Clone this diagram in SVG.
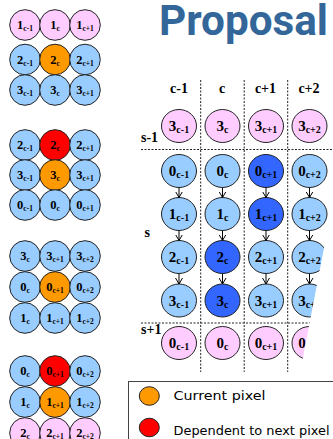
<svg xmlns="http://www.w3.org/2000/svg" width="333" height="439" viewBox="0 0 333 439">
<defs>
<style>
.pk{fill:#FFCCFF;stroke:#222;stroke-width:1}
.lb{fill:#99CCFF;stroke:#222;stroke-width:1}
.or{fill:#FF9900;stroke:#222;stroke-width:1}
.rd{fill:#FF0000;stroke:#222;stroke-width:1}
.db{fill:#3366FF;stroke:#222;stroke-width:1}
.sl{font-family:"Liberation Serif","Times New Roman",serif;font-weight:bold;font-size:12.5px;fill:#000;text-anchor:middle}
.sl tspan.s{font-size:7.5px}
.gl{font-family:"Liberation Serif","Times New Roman",serif;font-weight:bold;font-size:15px;fill:#000;text-anchor:middle}
.gl tspan.s{font-size:10px}
.hd{font-family:"Liberation Serif","Times New Roman",serif;font-weight:bold;font-size:14px;fill:#000}
.dash{stroke:#222;stroke-width:1;stroke-dasharray:2 1.5;fill:none}
.arr{stroke:#000;stroke-width:1;fill:none;marker-end:url(#ah)}
.lg{font-family:"DejaVu Sans",Verdana,sans-serif;font-size:13px;fill:#000}
</style>
<marker id="ah" viewBox="0 0 6 8" refX="6" refY="4" markerWidth="6" markerHeight="8" markerUnits="userSpaceOnUse" orient="auto">
<path d="M0,0.5 L6,4 L0,7.5" fill="none" stroke="#000" stroke-width="1"/>
</marker>
</defs>
<rect width="333" height="439" fill="#fff"/>
<text x="159" y="35" font-family="Roboto,'Liberation Sans',sans-serif" font-weight="bold" font-size="42" fill="#336699" textLength="169" lengthAdjust="spacingAndGlyphs">Proposal</text>

<!-- left column groups -->
<g id="g1">
<g id="g1-1c-1"><circle class="pk" cx="25" cy="25" r="15.3"/><text class="sl" x="25" y="29">1<tspan class="s" dy="2">c-1</tspan></text></g>
<g id="g1-1c"><circle class="pk" cx="55" cy="25" r="15.3"/><text class="sl" x="55" y="29">1<tspan class="s" dy="2">c</tspan></text></g>
<g id="g1-1c+1"><circle class="pk" cx="85" cy="25" r="15.3"/><text class="sl" x="85" y="29">1<tspan class="s" dy="2">c+1</tspan></text></g>
<g id="g1-2c-1"><circle class="lb" cx="25" cy="59.5" r="15.3"/><text class="sl" x="25" y="63.5">2<tspan class="s" dy="2">c-1</tspan></text></g>
<g id="g1-2c"><circle class="or" cx="55" cy="59.5" r="15.3"/><text class="sl" x="55" y="63.5">2<tspan class="s" dy="2">c</tspan></text></g>
<g id="g1-2c+1"><circle class="lb" cx="85" cy="59.5" r="15.3"/><text class="sl" x="85" y="63.5">2<tspan class="s" dy="2">c+1</tspan></text></g>
<g id="g1-3c-1"><circle class="lb" cx="25" cy="90" r="15.3"/><text class="sl" x="25" y="94">3<tspan class="s" dy="2">c-1</tspan></text></g>
<g id="g1-3c"><circle class="lb" cx="55" cy="90" r="15.3"/><text class="sl" x="55" y="94">3<tspan class="s" dy="2">c</tspan></text></g>
<g id="g1-3c+1"><circle class="lb" cx="85" cy="90" r="15.3"/><text class="sl" x="85" y="94">3<tspan class="s" dy="2">c+1</tspan></text></g>
</g>
<g id="g2">
<g id="g2-2c-1"><circle class="lb" cx="25" cy="145" r="15.3"/><text class="sl" x="25" y="149">2<tspan class="s" dy="2">c-1</tspan></text></g>
<g id="g2-2c"><circle class="rd" cx="55" cy="145" r="15.3"/><text class="sl" x="55" y="149">2<tspan class="s" dy="2">c</tspan></text></g>
<g id="g2-2c+1"><circle class="lb" cx="85" cy="145" r="15.3"/><text class="sl" x="85" y="149">2<tspan class="s" dy="2">c+1</tspan></text></g>
<g id="g2-3c-1"><circle class="lb" cx="25" cy="175" r="15.3"/><text class="sl" x="25" y="179">3<tspan class="s" dy="2">c-1</tspan></text></g>
<g id="g2-3c"><circle class="or" cx="55" cy="175" r="15.3"/><text class="sl" x="55" y="179">3<tspan class="s" dy="2">c</tspan></text></g>
<g id="g2-3c+1"><circle class="lb" cx="85" cy="175" r="15.3"/><text class="sl" x="85" y="179">3<tspan class="s" dy="2">c+1</tspan></text></g>
<g id="g2-0c-1"><circle class="lb" cx="25" cy="205" r="15.3"/><text class="sl" x="25" y="209">0<tspan class="s" dy="2">c-1</tspan></text></g>
<g id="g2-0c"><circle class="lb" cx="55" cy="205" r="15.3"/><text class="sl" x="55" y="209">0<tspan class="s" dy="2">c</tspan></text></g>
<g id="g2-0c+1"><circle class="lb" cx="85" cy="205" r="15.3"/><text class="sl" x="85" y="209">0<tspan class="s" dy="2">c+1</tspan></text></g>
</g>
<g id="g3">
<g id="g3-3c"><circle class="lb" cx="25" cy="256" r="15.3"/><text class="sl" x="25" y="260">3<tspan class="s" dy="2">c</tspan></text></g>
<g id="g3-3c+1"><circle class="lb" cx="55" cy="256" r="15.3"/><text class="sl" x="55" y="260">3<tspan class="s" dy="2">c+1</tspan></text></g>
<g id="g3-3c+2"><circle class="lb" cx="85" cy="256" r="15.3"/><text class="sl" x="85" y="260">3<tspan class="s" dy="2">c+2</tspan></text></g>
<g id="g3-0c"><circle class="lb" cx="25" cy="287" r="15.3"/><text class="sl" x="25" y="291">0<tspan class="s" dy="2">c</tspan></text></g>
<g id="g3-0c+1"><circle class="or" cx="55" cy="287" r="15.3"/><text class="sl" x="55" y="291">0<tspan class="s" dy="2">c+1</tspan></text></g>
<g id="g3-0c+2"><circle class="lb" cx="85" cy="287" r="15.3"/><text class="sl" x="85" y="291">0<tspan class="s" dy="2">c+2</tspan></text></g>
<g id="g3-1c"><circle class="lb" cx="25" cy="318" r="15.3"/><text class="sl" x="25" y="322">1<tspan class="s" dy="2">c</tspan></text></g>
<g id="g3-1c+1"><circle class="lb" cx="55" cy="318" r="15.3"/><text class="sl" x="55" y="322">1<tspan class="s" dy="2">c+1</tspan></text></g>
<g id="g3-1c+2"><circle class="lb" cx="85" cy="318" r="15.3"/><text class="sl" x="85" y="322">1<tspan class="s" dy="2">c+2</tspan></text></g>
</g>
<g id="g4">
<g id="g4-0c"><circle class="lb" cx="25" cy="371" r="15.3"/><text class="sl" x="25" y="375">0<tspan class="s" dy="2">c</tspan></text></g>
<g id="g4-0c+1"><circle class="rd" cx="55" cy="371" r="15.3"/><text class="sl" x="55" y="375">0<tspan class="s" dy="2">c+1</tspan></text></g>
<g id="g4-0c+2"><circle class="lb" cx="85" cy="371" r="15.3"/><text class="sl" x="85" y="375">0<tspan class="s" dy="2">c+2</tspan></text></g>
<g id="g4-1c"><circle class="lb" cx="25" cy="402" r="15.3"/><text class="sl" x="25" y="406">1<tspan class="s" dy="2">c</tspan></text></g>
<g id="g4-1c+1"><circle class="or" cx="55" cy="402" r="15.3"/><text class="sl" x="55" y="406">1<tspan class="s" dy="2">c+1</tspan></text></g>
<g id="g4-1c+2"><circle class="lb" cx="85" cy="402" r="15.3"/><text class="sl" x="85" y="406">1<tspan class="s" dy="2">c+2</tspan></text></g>
<g id="g4-2c"><circle class="pk" cx="25" cy="433" r="15.3"/><text class="sl" x="25" y="437">2<tspan class="s" dy="2">c</tspan></text></g>
<g id="g4-2c+1"><circle class="pk" cx="55" cy="433" r="15.3"/><text class="sl" x="55" y="437">2<tspan class="s" dy="2">c+1</tspan></text></g>
<g id="g4-2c+2"><circle class="pk" cx="85" cy="433" r="15.3"/><text class="sl" x="85" y="437">2<tspan class="s" dy="2">c+2</tspan></text></g>
</g>

<g id="grid-lines">
<line class="dash" x1="200.7" y1="80" x2="200.7" y2="372"/>
<line class="dash" x1="244.2" y1="80" x2="244.2" y2="372"/>
<line class="dash" x1="287.7" y1="80" x2="287.7" y2="372"/>
<line class="dash" x1="141" y1="149.5" x2="333" y2="149.5"/>
<line class="dash" x1="141" y1="323" x2="333" y2="323"/>
</g>
<g id="headers">
<text class="hd" x="179" y="93" text-anchor="middle">c-1</text>
<text class="hd" x="222" y="93" text-anchor="middle">c</text>
<text class="hd" x="265.5" y="93" text-anchor="middle">c+1</text>
<text class="hd" x="309" y="93" text-anchor="middle">c+2</text>
<text class="hd" x="141" y="142">s-1</text>
<text class="hd" x="144.5" y="237">s</text>
<text class="hd" x="141" y="334">s+1</text>
</g>

<g id="grid-nodes">
<g id="n-s1-3c-1"><ellipse class="pk" cx="179" cy="126" rx="17.5" ry="16.5"/><text class="gl" x="179" y="131">3<tspan class="s" dy="2">c-1</tspan></text></g>
<g id="n-s1-3c"><ellipse class="pk" cx="222.5" cy="126" rx="17.5" ry="16.5"/><text class="gl" x="222.5" y="131">3<tspan class="s" dy="2">c</tspan></text></g>
<g id="n-s1-3c+1"><ellipse class="pk" cx="266" cy="126" rx="17.5" ry="16.5"/><text class="gl" x="266" y="131">3<tspan class="s" dy="2">c+1</tspan></text></g>
<g id="n-s1-3c+2"><ellipse class="pk" cx="309.5" cy="126" rx="17.5" ry="16.5"/><text class="gl" x="309.5" y="131">3<tspan class="s" dy="2">c+2</tspan></text></g>

<g id="n-0c-1"><ellipse class="lb" cx="179" cy="171" rx="17.5" ry="16.5"/><text class="gl" x="179" y="176">0<tspan class="s" dy="2">c-1</tspan></text></g>
<g id="n-0c"><ellipse class="lb" cx="222.5" cy="171" rx="17.5" ry="16.5"/><text class="gl" x="222.5" y="176">0<tspan class="s" dy="2">c</tspan></text></g>
<g id="n-0c+1"><ellipse class="db" cx="266" cy="171" rx="17.5" ry="16.5"/><text class="gl" x="266" y="176">0<tspan class="s" dy="2">c+1</tspan></text></g>
<g id="n-0c+2"><ellipse class="lb" cx="309.5" cy="171" rx="17.5" ry="16.5"/><text class="gl" x="309.5" y="176">0<tspan class="s" dy="2">c+2</tspan></text></g>

<g id="n-1c-1"><ellipse class="lb" cx="179" cy="214" rx="17.5" ry="16.5"/><text class="gl" x="179" y="219">1<tspan class="s" dy="2">c-1</tspan></text></g>
<g id="n-1c"><ellipse class="lb" cx="222.5" cy="214" rx="17.5" ry="16.5"/><text class="gl" x="222.5" y="219">1<tspan class="s" dy="2">c</tspan></text></g>
<g id="n-1c+1"><ellipse class="db" cx="266" cy="214" rx="17.5" ry="16.5"/><text class="gl" x="266" y="219">1<tspan class="s" dy="2">c+1</tspan></text></g>
<g id="n-1c+2"><ellipse class="lb" cx="309.5" cy="214" rx="17.5" ry="16.5"/><text class="gl" x="309.5" y="219">1<tspan class="s" dy="2">c+2</tspan></text></g>

<g id="n-2c-1"><ellipse class="lb" cx="179" cy="257" rx="17.5" ry="16.5"/><text class="gl" x="179" y="262">2<tspan class="s" dy="2">c-1</tspan></text></g>
<g id="n-2c"><ellipse class="db" cx="222.5" cy="257" rx="17.5" ry="16.5"/><text class="gl" x="222.5" y="262">2<tspan class="s" dy="2">c</tspan></text></g>
<g id="n-2c+1"><ellipse class="lb" cx="266" cy="257" rx="17.5" ry="16.5"/><text class="gl" x="266" y="262">2<tspan class="s" dy="2">c+1</tspan></text></g>
<g id="n-2c+2"><ellipse class="lb" cx="309.5" cy="257" rx="17.5" ry="16.5"/><text class="gl" x="309.5" y="262">2<tspan class="s" dy="2">c+2</tspan></text></g>

<g id="n-3c-1"><ellipse class="lb" cx="179" cy="300.5" rx="17.5" ry="16.5"/><text class="gl" x="179" y="305.5">3<tspan class="s" dy="2">c-1</tspan></text></g>
<g id="n-3c"><ellipse class="db" cx="222.5" cy="300.5" rx="17.5" ry="16.5"/><text class="gl" x="222.5" y="305.5">3<tspan class="s" dy="2">c</tspan></text></g>
<g id="n-3c+1"><ellipse class="lb" cx="266" cy="300.5" rx="17.5" ry="16.5"/><text class="gl" x="266" y="305.5">3<tspan class="s" dy="2">c+1</tspan></text></g>
<g id="n-3c+2"><ellipse class="lb" cx="309.5" cy="300.5" rx="17.5" ry="16.5"/><text class="gl" x="309.5" y="305.5">3<tspan class="s" dy="2">c+2</tspan></text></g>

<g id="n-s2-0c-1"><ellipse class="pk" cx="179" cy="343" rx="17.5" ry="16.5"/><text class="gl" x="179" y="348">0<tspan class="s" dy="2">c-1</tspan></text></g>
<g id="n-s2-0c"><ellipse class="pk" cx="222.5" cy="343" rx="17.5" ry="16.5"/><text class="gl" x="222.5" y="348">0<tspan class="s" dy="2">c</tspan></text></g>
<g id="n-s2-0c+1"><ellipse class="pk" cx="266" cy="343" rx="17.5" ry="16.5"/><text class="gl" x="266" y="348">0<tspan class="s" dy="2">c+1</tspan></text></g>
<g id="n-s2-0c+2"><ellipse class="pk" cx="309.5" cy="343" rx="17.5" ry="16.5"/><text class="gl" x="309.5" y="348">0<tspan class="s" dy="2">c+2</tspan></text></g>
</g>

<g id="connectors">
<line class="arr" x1="179" y1="187.5" x2="179" y2="197.5"/>
<line class="arr" x1="222.5" y1="187.5" x2="222.5" y2="197.5"/>
<line class="arr" x1="266" y1="187.5" x2="266" y2="197.5"/>
<line class="arr" x1="309.5" y1="187.5" x2="309.5" y2="197.5"/>
<line class="arr" x1="179" y1="230.5" x2="179" y2="240.5"/>
<line class="arr" x1="222.5" y1="230.5" x2="222.5" y2="240.5"/>
<line class="arr" x1="266" y1="230.5" x2="266" y2="240.5"/>
<line class="arr" x1="309.5" y1="230.5" x2="309.5" y2="240.5"/>
<line class="arr" x1="179" y1="273.5" x2="179" y2="284"/>
<line class="arr" x1="222.5" y1="273.5" x2="222.5" y2="284"/>
<line class="arr" x1="266" y1="273.5" x2="266" y2="284"/>
<line class="arr" x1="309.5" y1="273.5" x2="309.5" y2="284"/>
</g>

<polygon points="339,170 299,378 340,378" fill="#fff"/>

<g id="legend">
<rect x="128.5" y="381.5" width="230" height="70" fill="#fff" stroke="#444" stroke-width="1"/>
<g id="leg-current"><ellipse class="or" cx="149.3" cy="396" rx="10" ry="9.3"/><text class="lg" x="173.5" y="399.5" textLength="92" lengthAdjust="spacingAndGlyphs">Current pixel</text></g>
<g id="leg-dependent"><ellipse class="rd" cx="149.3" cy="427.5" rx="10" ry="9.3"/><text class="lg" x="173.5" y="434.5" textLength="156" lengthAdjust="spacingAndGlyphs">Dependent to next pixel</text></g>
</g>
</svg>
